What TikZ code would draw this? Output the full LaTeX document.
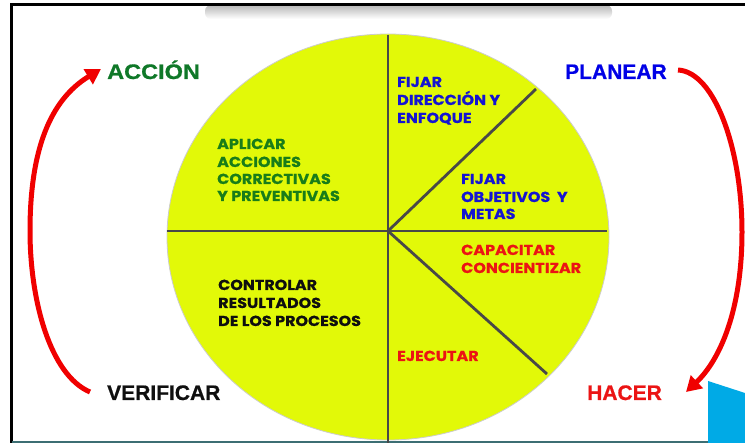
\documentclass[tikz,border=0pt]{standalone}
\usepackage{fontspec}
\setmainfont{Liberation Sans}
\newfontfamily\labfont[BoldFeatures={FakeBold=0.8}]{Liberation Sans}
\newfontfamily\infont[FakeStretch=1.1,BoldFeatures={FakeBold=0.6}]{Poppins}
\usetikzlibrary{arrows.meta}
\definecolor{pieyellow}{RGB}{226,249,8}
\definecolor{divgray}{RGB}{72,72,72}
\definecolor{txtblue}{RGB}{20,20,210}
\definecolor{labblue}{RGB}{0,0,230}
\definecolor{txtred}{RGB}{235,20,20}
\definecolor{txtgreen}{RGB}{25,125,25}
\definecolor{labgreen}{RGB}{15,120,40}
\definecolor{txtblack}{RGB}{15,15,15}
\definecolor{arrowred}{RGB}{240,0,0}
\definecolor{skyblue}{RGB}{0,170,230}
\definecolor{bottomteal}{RGB}{60,110,115}
\tikzset{
  divider/.style={draw=divgray, line width=2.8pt},
  redarrow/.style={draw=arrowred, line width=5pt, -{Triangle[length=15pt,width=17pt]}},
  intext/.style={anchor=base west, inner sep=0pt, font=\infont\bfseries\fontsize{14.5}{17}\selectfont},
  outtext/.style={anchor=base west, inner sep=0pt, font=\labfont\bfseries\fontsize{21}{24}\selectfont},
}
\begin{document}
\begin{tikzpicture}[x=1pt,y=-1pt]
\useasboundingbox (0,0) rectangle (745,443);
\fill[white] (0,0) rectangle (745,443);
% top shadow
\shade[top color=black!28, bottom color=white, rounded corners=6pt] (205,5) rectangle (612,19);
% frame
\draw[black, line width=3pt] (11,443) -- (11,5) -- (745,5);
\draw[bottomteal, line width=2pt] (12,442) -- (745,442);
\fill[skyblue] (708,381) -- (745,393) -- (745,443) -- (708,443) -- cycle;
% pie
\fill[pieyellow, draw=black!20, line width=0.8pt] (388,237) ellipse [x radius=221, y radius=203];
\coordinate (ctr) at (388,231);
\draw[divider] (388,35) -- (388,443);
\draw[divider] (167,231) -- (607,231);
\draw[divider] (ctr) -- (536,89);
\draw[divider] (ctr) -- (547,374);
% inner texts
\node[intext, txtblue] (b1a) at (397,87) {FIJAR};
\node[intext, txtblue] (b1b) at (397,105) {DIRECCIÓN Y};
\node[intext, txtblue] (b1c) at (397,123) {ENFOQUE};
\node[intext, txtblue] (b2a) at (461,184) {FIJAR};
\node[intext, txtblue] (b2b) at (461,202) {OBJETIVOS~~Y};
\node[intext, txtblue] (b2c) at (461,219) {METAS};
\node[intext, txtred] (r1a) at (461,255) {CAPACITAR};
\node[intext, txtred] (r1b) at (461,273) {CONCIENTIZAR};
\node[intext, txtred] (r2a) at (397,361) {EJECUTAR};
\node[intext, txtgreen] (g1a) at (217,149) {APLICAR};
\node[intext, txtgreen] (g1b) at (217,167) {ACCIONES};
\node[intext, txtgreen] (g1c) at (217,184) {CORRECTIVAS};
\node[intext, txtgreen] (g1d) at (217,201) {Y PREVENTIVAS};
\node[intext, txtblack] (k1a) at (218,290) {CONTROLAR};
\node[intext, txtblack] (k1b) at (218,308) {RESULTADOS};
\node[intext, txtblack] (k1c) at (218,326) {DE LOS PROCESOS};
% outer labels
\node[outtext, labgreen] (accion) at (107,79) {\scalebox{1.12}[1]{ACCIÓN}};
\node[outtext, labblue] (planear) at (565,79) {PLANEAR};
\node[outtext, txtblack] (verificar) at (107,400) {VERIFICAR};
\node[outtext, txtred] (hacer) at (587,400) {HACER};
% arrows
\coordinate (verEnd) at (90,392);
\coordinate (lmid) at (30,231);
\coordinate (accEnd) at (101,69);
\draw[redarrow] (verEnd) .. controls (50,375) and (30,300) .. (lmid) .. controls (30,150) and (50,100) .. (accEnd);
\coordinate (plaEnd) at (678,70);
\coordinate (rmid) at (742,232);
\coordinate (hacEnd) at (686,392);
\draw[redarrow] (plaEnd) .. controls (715,72) and (742,150) .. (rmid) .. controls (742,310) and (720,360) .. (hacEnd);
\end{tikzpicture}
\end{document}
